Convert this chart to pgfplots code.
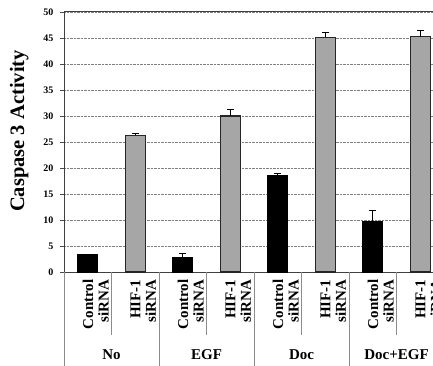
\documentclass[border=0pt]{standalone}
\usepackage{fontspec}
\setmainfont{Liberation Serif}
\usepackage{pgfplots}
\pgfplotsset{compat=1.18}
\begin{document}
\begin{tikzpicture}
\useasboundingbox (0,0) rectangle (433pt,365pt);
\clip (0,0) rectangle (433pt,365pt);
\begin{axis}[
  at={(64pt,93pt)}, anchor=south west,
  x=47.5pt, y=5.2pt,
  xmin=-0.5, xmax=7.5, ymin=0, ymax=50,
  clip=false,
  axis line style={draw=black!75, line width=1pt},
  ytick={0,5,...,50},
  ymajorgrids,
  grid style={densely dotted, black!50, line width=0.8pt},
  tick align=outside,
  major tick length=4pt,
  ytick style={draw=black!70, line width=0.8pt},
  xtick style={draw=none},
  xtick={0,...,7},
  xticklabels={{Control\\siRNA},{HIF-1\\siRNA},{Control\\siRNA},{HIF-1\\siRNA},{Control\\siRNA},{HIF-1\\siRNA},{Control\\siRNA},{HIF-1\\siRNA}},
  xticklabel style={rotate=90, anchor=east, align=right, yshift=-8pt,
    font=\bfseries\fontsize{15}{15.5}\selectfont},
  /pgf/number format/assume math mode=true,
  yticklabel style={font=\bfseries\fontsize{10}{12}\selectfont, xshift=-3pt},
  ylabel={Caspase 3 Activity},
  ylabel style={font=\bfseries\fontsize{20.5}{24}\selectfont, yshift=8pt, xshift=11pt},
]
\addplot[ybar, bar width=20pt, bar shift=0pt, fill=black, draw=black, line width=0.8pt,
  error bars/.cd, y dir=plus, y explicit,
  error bar style={black, line width=1pt},
  error mark options={rotate=90, mark size=3.5pt, line width=1pt, black}]
coordinates {(0,3.3) +- (0,0.15) (2,2.8) +- (0,0.8) (4,18.5) +- (0,0.35) (6,9.8) +- (0,2.0)};
\addplot[ybar, bar width=20pt, bar shift=0pt, fill=black!35, draw=black!85, line width=1.2pt,
  error bars/.cd, y dir=plus, y explicit,
  error bar style={black, line width=1pt},
  error mark options={rotate=90, mark size=3.5pt, line width=1pt, black}]
coordinates {(1,26.3) +- (0,0.25) (3,30.0) +- (0,1.2) (5,45.1) +- (0,1.0) (7,45.25) +- (0,1.1)};
% separators in label area
\pgfplotsinvokeforeach{-0.5,1.5,3.5,5.5}{
  \draw[black!45, line width=1pt] (axis cs:#1,0) -- ++(0pt,-100pt);
}
\pgfplotsinvokeforeach{0.5,2.5,4.5,6.5}{
  \draw[black!45, line width=1pt] (axis cs:#1,0) -- ++(0pt,-63pt);
}
\node[font=\bfseries\fontsize{15}{17}\selectfont] at ([yshift=-83pt]axis cs:0.5,0) {No};
\node[font=\bfseries\fontsize{15}{17}\selectfont] at ([yshift=-83pt]axis cs:2.5,0) {EGF};
\node[font=\bfseries\fontsize{15}{17}\selectfont] at ([yshift=-83pt]axis cs:4.5,0) {Doc};
\node[font=\bfseries\fontsize{15}{17}\selectfont] at ([yshift=-83pt]axis cs:6.5,0) {Doc+EGF};
\end{axis}
\end{tikzpicture}
\end{document}
